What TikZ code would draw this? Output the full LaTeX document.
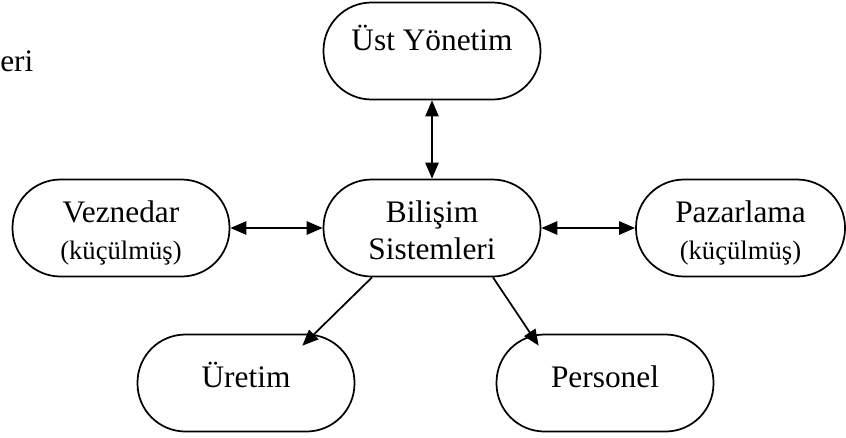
\documentclass[tikz,border=0pt]{standalone}
\usepackage{fontspec}
\setmainfont{Liberation Serif}
\usepackage{tikz}
\usetikzlibrary{arrows.meta,positioning,calc}

\begin{document}
\begin{tikzpicture}[
  x=0.75pt,y=-0.75pt,
  every node/.style={font=\fontsize{23.5}{27.5}\selectfont,align=center},
  oval/.style={draw,line width=1.3pt,rounded corners=36pt,minimum width=162.75pt,minimum height=72.75pt,inner sep=0pt},
  tek/.style={text height=16pt,text depth=10pt},
  ok/.style={line width=1.3pt,{Triangle[length=12pt,width=10pt]}-{Triangle[length=12pt,width=10pt]}},
  tekok/.style={line width=1.3pt,-{Triangle[length=12pt,width=10pt]}}
]
\useasboundingbox (0,0) rectangle (846,437);
\node[anchor=base west,inner sep=0pt] (kesik) at (0,71) {eri};
\node[oval,text height=16pt,text depth=17.5pt] (ust) at (432,51) {Üst Yönetim};
\node[oval,text height=48.5pt,text depth=2pt] (bilsis) at (432,228) {Bilişim\\Sistemleri};
\node[oval,text height=49pt,text depth=2pt] (vezne) at (121,228) {Veznedar\\{\fontsize{20}{23}\selectfont(küçülmüş)}};
\node[oval,text height=49pt,text depth=2pt,minimum width=156.75pt] (pazar) at (740.5,228) {Pazarlama\\{\fontsize{20}{23}\selectfont(küçülmüş)}};
\node[oval,tek] (uretim) at (246,383) {Üretim};
\node[oval,tek] (personel) at (605,383) {Personel};
% baglantilar
\draw[ok] (ust.south) -- (bilsis.north);
\draw[ok] (vezne.east) -- (bilsis.west);
\draw[ok] (bilsis.east) -- (pazar.west);
\draw[tekok] ($(bilsis.south)+(-60,0)$) -- ($(uretim.north east)+(-53,12)$);
\draw[tekok] ($(bilsis.south)+(61,0)$) -- ($(personel.north west)+(43,12)$);
\end{tikzpicture}
\end{document}
